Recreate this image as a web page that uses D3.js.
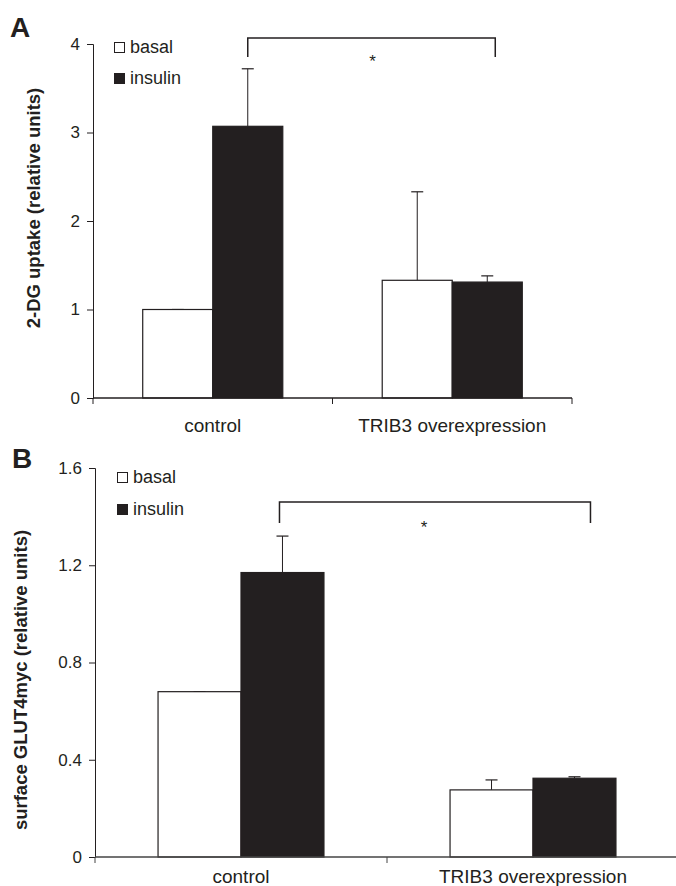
<!DOCTYPE html>
<html>
<head>
<meta charset="utf-8">
<script src="https://cdn.jsdelivr.net/npm/d3@7"></script>
<style>
  body { margin: 0; background: #fff; }
  svg { display: block; font-family: "Liberation Sans", Arial, sans-serif; }
</style>
</head>
<body>
<svg id="chart" width="676" height="886"></svg>
<script>
'use strict';

var categories = ["control", "TRIB3 overexpression"];
var series = ["basal", "insulin"];

// panel A: 2-DG uptake
var uptakeMeans = [[1.0, 3.07], [1.33, 1.31]];
var uptakeErrors = [[0.0, 0.65], [1.0, 0.07]];
var uptakeTicks = [0, 1, 2, 3, 4];

// panel B: surface GLUT4myc
var glutMeans = [[0.68, 1.17], [0.276, 0.324]];
var glutErrors = [[0.0, 0.15], [0.041, 0.006]];
var glutTicks = [0, 0.4, 0.8, 1.2, 1.6];

var svg = d3.select("#chart");
var barColors = { basal: "#fff", insulin: "#231f20" };
var ink = "#231f20";

function drawPanel(opts) {
    var g = svg.append("g");

    var y = d3.scaleLinear()
        .domain([0, opts.ticks[opts.ticks.length - 1]])
        .range([opts.bottom, opts.top]);

    var x0 = d3.scaleBand()
        .domain(categories)
        .range([opts.left, opts.right])
        .padding(0);

    var x1 = d3.scaleBand()
        .domain(series)
        .range([0, x0.bandwidth()])
        .paddingInner(0)
        .paddingOuter(opts.outerPad);

    var rows = [];
    categories.forEach(function(c, i) {
        series.forEach(function(s, j) {
            rows.push({ cat: c, ser: s, value: opts.means[i][j], err: opts.errors[i][j] });
        });
    });

    // y axis
    var yAxis = g.append("g")
        .attr("transform", "translate(" + opts.left + ",0)")
        .call(d3.axisLeft(y).tickValues(opts.ticks).tickSize(6).tickPadding(7)
            .tickFormat(opts.format));
    yAxis.selectAll("path, line").attr("stroke", ink);
    yAxis.selectAll("text")
        .style("font-size", "17px")
        .attr("fill", ink);

    // bars
    var barGroup = g.selectAll(".bar")
        .data(rows)
        .enter().append("g")
        .attr("class", "bar");

    // error bars (upper only)
    barGroup.append("line")
        .attr("x1", function(d) { return x0(d.cat) + x1(d.ser) + x1.bandwidth() / 2; })
        .attr("x2", function(d) { return x0(d.cat) + x1(d.ser) + x1.bandwidth() / 2; })
        .attr("y1", function(d) { return y(d.value); })
        .attr("y2", function(d) { return y(d.value + d.err); })
        .attr("stroke", ink)
        .attr("stroke-width", 1);

    barGroup.append("line")
        .attr("x1", function(d) { return x0(d.cat) + x1(d.ser) + x1.bandwidth() / 2 - 6; })
        .attr("x2", function(d) { return x0(d.cat) + x1(d.ser) + x1.bandwidth() / 2 + 6; })
        .attr("y1", function(d) { return y(d.value + d.err); })
        .attr("y2", function(d) { return y(d.value + d.err); })
        .attr("stroke", ink)
        .attr("stroke-width", 1.2);

    barGroup.append("rect")
        .attr("x", function(d) { return x0(d.cat) + x1(d.ser); })
        .attr("y", function(d) { return y(d.value); })
        .attr("width", x1.bandwidth())
        .attr("height", function(d) { return y(0) - y(d.value); })
        .attr("fill", function(d) { return barColors[d.ser]; })
        .attr("stroke", ink)
        .attr("stroke-width", 1.2);

    // x axis with ticks between groups
    var xAxis = g.append("g")
        .attr("transform", "translate(0," + opts.bottom + ")");
    xAxis.append("line")
        .attr("x1", opts.left).attr("x2", opts.right)
        .attr("stroke", opts.axisColor).attr("stroke-width", 1.5);
    var edges = [opts.left].concat(categories.map(function(c) { return x0(c) + x0.bandwidth(); }));
    if (!opts.lastTick) edges.pop();
    xAxis.selectAll(".xtick")
        .data(edges)
        .enter().append("line")
        .attr("class", "xtick")
        .attr("x1", function(d) { return d; })
        .attr("x2", function(d) { return d; })
        .attr("y1", 0).attr("y2", 6)
        .attr("stroke", opts.axisColor);
    xAxis.selectAll(".xlabel")
        .data(categories)
        .enter().append("text")
        .attr("class", "xlabel")
        .attr("x", function(c) { return x0(c) + x0.bandwidth() / 2; })
        .attr("y", opts.labelY - opts.bottom)
        .attr("text-anchor", "middle")
        .attr("fill", ink)
        .style("font-size", "19px")
        .text(function(c) { return c; });

    // y axis title
    g.append("text")
        .attr("transform", "translate(" + opts.titleX + "," + opts.titleY + ") rotate(-90)")
        .attr("text-anchor", "middle")
        .attr("fill", ink)
        .style("font-size", "18.5px")
        .style("font-weight", "bold")
        .text(opts.title);

    // panel letter
    g.append("text")
        .attr("x", opts.letterX)
        .attr("y", opts.letterY)
        .attr("fill", ink)
        .style("font-size", "28px")
        .style("font-weight", "bold")
        .text(opts.letter);

    // legend
    var legend = g.selectAll(".legend")
        .data(series)
        .enter().append("g")
        .attr("class", "legend")
        .attr("transform", function(d, i) {
            return "translate(" + opts.legendX + "," + (opts.legendY + i * opts.legendGap) + ")";
        });
    legend.append("rect")
        .attr("x", 0.5).attr("y", 0.5)
        .attr("width", 10).attr("height", 10)
        .attr("fill", function(d) { return barColors[d]; })
        .attr("stroke", ink);
    legend.append("text")
        .attr("x", 16)
        .attr("y", 11)
        .attr("fill", ink)
        .style("font-size", "18px")
        .text(function(d) { return d; });

    // significance bracket: control insulin vs TRIB3 insulin
    var xa = x0(categories[0]) + x1("insulin") + x1.bandwidth() / 2 - opts.bracketInset;
    var xb = x0(categories[1]) + x1("insulin") + x1.bandwidth() / 2 + opts.bracketShift;
    var yTop = opts.bracketY;
    var yLow = yTop + opts.bracketDrop;
    g.append("path")
        .attr("d", "M" + xa + "," + yLow + "V" + yTop + "H" + xb + "V" + yLow)
        .attr("fill", "none")
        .attr("stroke", ink)
        .attr("stroke-width", 1.5);
    g.append("text")
        .attr("x", (xa + xb) / 2 + opts.starShift)
        .attr("y", yLow + 10)
        .attr("text-anchor", "middle")
        .attr("fill", ink)
        .style("font-size", "17px")
        .text("*");
}

drawPanel({
    letter: "A", letterX: 10, letterY: 37,
    means: uptakeMeans, errors: uptakeErrors, ticks: uptakeTicks,
    format: d3.format("d"),
    left: 93, right: 572, top: 44, bottom: 398,
    outerPad: 0.71, lastTick: true, axisColor: ink,
    labelY: 432,
    title: "2-DG uptake (relative units)", titleX: 40, titleY: 208,
    legendX: 114, legendY: 42, legendGap: 31,
    bracketY: 38, bracketDrop: 19, bracketShift: 8, bracketInset: 0, starShift: 1
});

drawPanel({
    letter: "B", letterX: 12, letterY: 468,
    means: glutMeans, errors: glutErrors, ticks: glutTicks,
    format: function(v) { return v === 0 ? "0" : d3.format(".1f")(v); },
    left: 95, right: 679, top: 468, bottom: 857,
    outerPad: 0.76, lastTick: false, axisColor: "#444",
    labelY: 883,
    title: "surface GLUT4myc (relative units)", titleX: 27, titleY: 680,
    legendX: 117, legendY: 472, legendGap: 32,
    bracketY: 502, bracketDrop: 21, bracketShift: 16, bracketInset: 3, starShift: -11
});
</script>
</body>
</html>
